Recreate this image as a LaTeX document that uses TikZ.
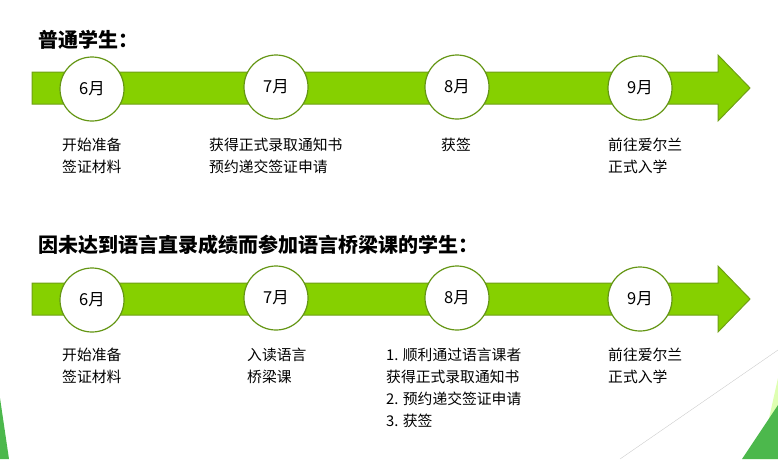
\documentclass[tikz,border=0pt]{standalone}
\usepackage{fontspec}
\setmainfont{Noto Sans CJK SC}
\begin{document}
\begin{tikzpicture}[x=1pt,y=-1pt,
 circ/.style={circle,draw=circg,line width=1.2pt,fill=white,minimum size=64pt,inner sep=0pt,font=\fontsize{16.5}{18}\selectfont},
 lbl/.style={anchor=north west,align=left,font=\fontsize{14.8}{22}\selectfont,inner sep=0pt},
 ttl/.style={anchor=west,font=\bfseries\fontsize{20}{22}\selectfont,inner sep=0pt}]
\useasboundingbox (0,0) rectangle (778,459);
\definecolor{barg}{RGB}{134,208,0}
\definecolor{bard}{RGB}{110,160,20}
\definecolor{circg}{RGB}{100,150,20}
\fill[green!25!lime!30] (778,378) -- (760,459) -- (778,459) -- cycle;
\fill[green!60!black!70!white] (778,405) -- (742,459) -- (778,459) -- cycle;
\fill[green!60!black!70!white] (0,398) -- (9,459) -- (0,459) -- cycle;
\draw[gray!40] (620,459) -- (778,350);
\node[ttl] (t1) at (38,40) {普通学生：};
\node[ttl] (t2) at (38,245) {因未达到语言直录成绩而参加语言桥梁课的学生：};
\foreach \y/\n in {88/a,299/b}{
 \filldraw[fill=barg,draw=bard,line width=1pt] (32,\y-16) -- (718,\y-16) -- (718,\y-33) -- (750,\y) -- (718,\y+33) -- (718,\y+16) -- (32,\y+16) -- cycle;
}
\node[circ] (a1) at (92,89) {6月};
\node[circ] (a2) at (276,87) {7月};
\node[circ] (a3) at (457,87) {8月};
\node[circ] (a4) at (640,88) {9月};
\node[circ] (b1) at (92,300) {6月};
\node[circ] (b2) at (276,298) {7月};
\node[circ] (b3) at (457,298) {8月};
\node[circ] (b4) at (640,299) {9月};
\node[lbl] (l1) at (62,138) {开始准备\\签证材料};
\node[lbl] (l2) at (209,138) {获得正式录取通知书\\预约递交签证申请};
\node[lbl] (l3) at (441,138) {获签};
\node[lbl] (l4) at (608,138) {前往爱尔兰\\正式入学};
\node[lbl] (m1) at (62,348) {开始准备\\签证材料};
\node[lbl] (m2) at (247,348) {入读语言\\桥梁课};
\node[lbl] (m3) at (386,348) {1. 顺利通过语言课者\\获得正式录取通知书\\2. 预约递交签证申请\\3. 获签};
\node[lbl] (m4) at (608,348) {前往爱尔兰\\正式入学};
\end{tikzpicture}
\end{document}
